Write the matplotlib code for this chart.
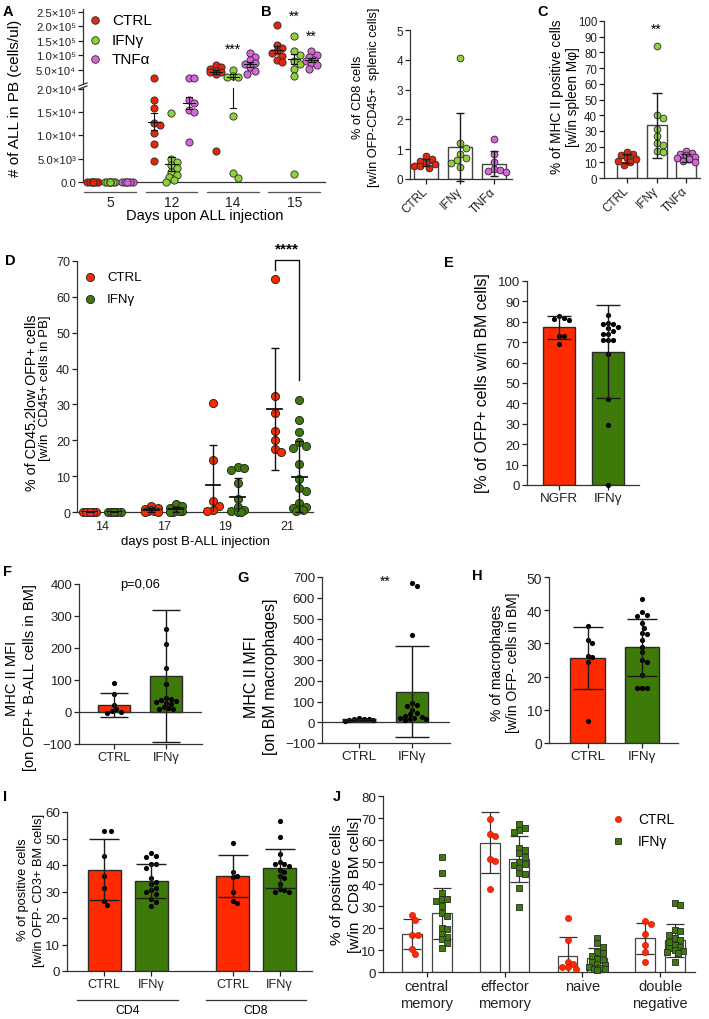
import numpy as np
import matplotlib
matplotlib.use("Agg")
import matplotlib.pyplot as plt
from matplotlib.lines import Line2D
from matplotlib.transforms import blended_transform_factory

plt.rcParams["font.family"] = ["Liberation Sans", "DejaVu Sans"]
plt.rcParams["font.size"] = 9
plt.rcParams["axes.linewidth"] = 0.9

# ---------------- data ----------------
# A: number of ALL cells in PB (cells/ul), points + mean/SEM per day
a_days = ["5", "12", "14", "15"]
a_ctrl = [[0, 0, 0, 0, 0, 0, 0, 0],
          [22000, 17700, 15900, 12700, 12200, 10500, 8100, 4600],
          [66000, 60000, 55000, 47000, 44000, 42000, 35000, 6700],
          [206000, 137000, 126000, 115000, 109000, 98000, 86000, 77000]]
a_ifn = [[0, 0, 0, 0, 0, 0, 0, 0],
         [14900, 5000, 4400, 3600, 3000, 2200, 1500, 1000, 500, 100],
         [50000, 28000, 26000, 25000, 14100, 2000, 900],
         [168000, 115000, 103000, 81000, 69000, 52000, 30000, 1800]]
a_tnf = [[0, 0, 0, 0, 0, 0],
         [22200, 22600, 17600, 17000, 15400, 15000, 8500],
         [108000, 96000, 83000, 75000, 70000, 60000, 45000, 36000],
         [115000, 103000, 95000, 86000, 80000, 75000, 66000, 55000]]
a_ctrl_mean = [0, 13000, 43000, 120000]
a_ctrl_sem = [0, 1900, 7000, 13000]
a_ifn_mean = [0, 3800, 26000, 87000]
a_ifn_sem = [0, 1500, 10000, 17000]
a_tnf_mean = [0, 17000, 70000, 85000]
a_tnf_sem = [0, 1300, 9000, 7000]

# B: % CD8 cells
bc_groups = ["CTRL", "IFNγ", "TNFα"]
b_points = [[0.78, 0.68, 0.62, 0.55, 0.5, 0.45, 0.42, 0.38],
            [4.05, 1.2, 1.05, 0.85, 0.7, 0.65, 0.55, 0.4],
            [1.34, 0.84, 0.58, 0.32, 0.3, 0.28, 0.25]]
b_mean = [0.55, 1.07, 0.52]
b_sd = [0.13, 1.15, 0.43]

# C: % MHC II positive cells
c_points = [[16.5, 15.5, 14.5, 13, 12, 11, 10, 8.2],
            [84, 40, 38.5, 31.5, 26.5, 22, 21, 17, 16.5],
            [17, 16, 15.5, 14.5, 13.5, 13, 12, 11, 10]]
c_mean = [12.5, 33.5, 13]
c_sd = [2.7, 20.5, 2.5]

# D: % CD45.2low OFP+ cells over time
d_days = ["14", "17", "19", "21"]
d_ctrl = [[0, 0, 0, 0, 0, 0],
          [1.6, 1.2, 0.9, 0.6, 0.3, 0.2, 0.1, 0],
          [30.5, 14.4, 3.1, 1.6, 0.6, 0.4],
          [65, 32.3, 27.5, 22.6, 20.2, 17.5, 16.7]]
d_ifn = [[0, 0, 0, 0, 0, 0, 0, 0],
         [2.3, 1.6, 1.0, 0.5, 0.3, 0.2, 0.1, 0],
         [12.6, 12.3, 11.8, 8.2, 3.5, 1.5, 0.6, 0.3, 0, 0],
         [31.2, 25.7, 22.2, 19.4, 18.3, 17.8, 13.3, 9.2, 6.8, 5.8, 2.5, 1.5, 1.0, 0.8, 0.5, 0.3]]
d_ctrl_mean = [0, 0.6, 7.5, 28.8]
d_ctrl_sd = [0, 0.55, 11.3, 17]
d_ifn_mean = [0, 0.7, 4.1, 9.9]
d_ifn_sd = [0, 0.8, 5.4, 10]

# E: % OFP+ cells in BM
e_groups = ["NGFR", "IFNγ"]
e_points = [[82.7, 82.0, 81.5, 81.0, 73.0, 72.8, 69.3],
            [83.3, 79.5, 79.0, 78.8, 77.3, 76.8, 75.5, 74.2, 73.8, 71.2, 71.0, 71.1, 64.0, 42.3, 29.2, 0]]
e_mean = [77.3, 65.4]
e_sd = [5.5, 22.6]

# F: MHC II MFI on OFP+ B-ALL cells
fgh_groups = ["CTRL", "IFNγ"]
f_points = [[92, 55, 22, 8, 3, 0, -3],
            [258, 212, 138, 88, 44, 42, 38, 35, 32, 28, 25, 15, 12, 10, 8]]
f_mean = [21, 112]
f_sd = [37, 207]

# G: MHC II MFI on BM macrophages
g_points = [[20, 18, 17, 15, 13, 10, 6],
            [669, 658, 419, 94, 84, 80, 61, 45, 40, 30, 25, 22, 20, 18, 15, 12]]
g_mean = [13, 148]
g_sd = [5, 220]

# H: % macrophages
h_points = [[35.2, 31, 30, 26.3, 26, 24.5, 6.7],
            [43.5, 39.5, 38.5, 38.3, 36, 34.6, 33, 32.8, 31, 29, 27.3, 25, 24.5, 20.5, 16.7, 16.6, 16.5]]
h_mean = [25.5, 28.8]
h_sd = [9.3, 8.7]

# I: % positive cells in CD3+ BM cells (CD4 / CD8)
i_sets = ["CD4", "CD8"]
i_ctrl = [[53, 53, 43.5, 36, 31.5, 26.5, 24.8],
          [48.3, 37.5, 36, 35.5, 30, 26.5, 25.8]]
i_ifn = [[44.5, 43.5, 43, 40.5, 40.5, 39, 35, 33.5, 33, 31.5, 30.5, 30, 29, 27, 26, 24.5],
         [56.5, 50.5, 44, 41, 40.5, 40.5, 39.5, 38, 37.5, 36, 35, 33, 31, 30.5, 30, 30]]
i_ctrl_mean = [38.3, 35.9]
i_ctrl_sd = [11.6, 8.0]
i_ifn_mean = [34.1, 38.8]
i_ifn_sd = [6.4, 7.3]

# J: CD8 subsets
j_groups = ["central\nmemory", "effector\nmemory", "naive", "double\nnegative"]
j_ctrl = [[26, 23.8, 16.8, 16.8, 10.6, 8.3],
          [69.5, 62.8, 62, 51.5, 50.5, 37.8],
          [24.5, 14.5, 4.5, 3.5, 2.5, 2.3, 1.5],
          [23, 22, 17.5, 12.5, 9, 4.5]]
j_ifn = [[52.5, 45, 36, 33, 33, 32.5, 30, 27, 25.5, 20, 19.5, 17.5, 16, 15, 13, 11],
         [67.5, 65.5, 64.5, 63.5, 56.5, 55.5, 54, 52.5, 50, 49, 48.5, 47.5, 45, 44.5, 38, 29.5],
         [15.5, 13, 11.5, 9, 8.5, 7.5, 6, 5.5, 4.5, 3.5, 3, 2.5, 2, 1.5, 1.5, 1],
         [31.5, 30.5, 19, 18.5, 17, 15.5, 14.5, 13.5, 12.5, 11.5, 11, 10, 9.5, 9, 8.5, 4.5]]
j_ctrl_mean = [17.4, 58.8, 7.3, 15.4]
j_ctrl_sd = [6.8, 14, 8.7, 7]
j_ifn_mean = [26.7, 51.5, 6.5, 14.4]
j_ifn_sd = [11.5, 10.5, 4.5, 7.5]

# colours
RED_A, GREEN_A, PURPLE_A = "#e3260c", "#8fd13a", "#d865dc"
RED, GREEN = "#ff2a00", "#3d7a0a"
EDGE = "#2a2a2a"

W, H = 709, 1020
fig = plt.figure(figsize=(W / 100, H / 100), dpi=100)


def fp(x, y):
    # pixel -> figure fraction
    return (x / W, 1 - y / H)


def add_ax(l, t, r, b, size=9):
    ax = fig.add_axes([l / W, 1 - b / H, (r - l) / W, (b - t) / H])
    ax.spines[["top", "right"]].set_visible(False)
    ax.spines[["left", "bottom"]].set_color("#333333")
    ax.tick_params(colors="#222222", length=3.5, width=0.9, labelsize=size, pad=1.5)
    ax.patch.set_alpha(0)
    return ax


def swarm(ax, xc, vals, d, spread=0.5, kmax=6):
    # simple beeswarm in pixel space, returns x positions in data units
    tr = ax.transData
    vals = np.asarray(vals, float)
    pts = tr.transform(np.column_stack([np.full(len(vals), xc, float), vals]))
    x0 = pts[0, 0]
    placed = []
    ks = [0] + [s * i for i in range(1, kmax + 1) for s in (1, -1)]
    for y in pts[:, 1]:
        best, bestd = x0, -1.0
        for k in ks:
            x = x0 + k * d * spread
            md = min([np.hypot(x - px, y - py) for px, py in placed], default=1e9)
            if md >= d:
                best = x
                break
            if md > bestd + 0.5:
                best, bestd = x, md
        placed.append((best, y))
    return tr.inverted().transform(np.array(placed))[:, 0]


def ylab(cx, cy, lines, size=9):
    # rotated y label, one text per line so each line is centred on cy
    gap = size * 100 / 72 * 1.18
    n = len(lines)
    for i, s in enumerate(lines):
        fig.text(*fp(cx + (i - (n - 1) / 2) * gap, cy), s, rotation=90,
                 ha="center", va="center", fontsize=size)


def letter(x, y, s):
    fig.text(*fp(x, y), s, fontweight="bold", fontsize=10.5, ha="left", va="center")


def bars(ax, xs, means, sds, colors, width, cap, edge=EDGE):
    ax.bar(xs, means, width, color=colors, edgecolor=edge, linewidth=1.0, zorder=1)
    ax.errorbar(xs, means, yerr=sds, fmt="none", ecolor="#1a1a1a", elinewidth=1.0,
                capsize=cap, capthick=1.0, zorder=4, clip_on=False)


# ================= A (broken axis) =================
axU = add_ax(83, 10, 325, 84, size=8.2)
axL = add_ax(83, 89, 325, 183, size=8.2)
split = 20200
for ax in (axU, axL):
    ax.set_xlim(-0.44, 3.5)
axU.set_ylim(5200, 260000)
axL.set_ylim(0, split)
axU.spines["bottom"].set_visible(False)
axU.set_xticks([])
axU.set_yticks([5e4, 1e5, 1.5e5, 2e5, 2.5e5])
axU.set_yticklabels(["5.0×10⁴", "1.0×10⁵", "1.5×10⁵", "2.0×10⁵", "2.5×10⁵"])
axL.set_yticks([0, 5e3, 1e4, 1.5e4, 2e4])
axL.set_yticklabels(["0.0", "5.0×10³", "1.0×10⁴", "1.5×10⁴", "2.0×10⁴"])
a_x = np.arange(len(a_days))
axL.set_xticks(a_x)
axL.set_xticklabels(a_days, fontsize=10)
axL.tick_params(axis="x", length=0, pad=9.5)

a_series = [(a_ctrl, a_ctrl_mean, a_ctrl_sem, RED_A),
            (a_ifn, a_ifn_mean, a_ifn_sem, GREEN_A),
            (a_tnf, a_tnf_mean, a_tnf_sem, PURPLE_A)]
a_off = [-0.28, 0.0, 0.28]
for gi in range(len(a_days)):
    for si, (vals, means, sems, col) in enumerate(a_series):
        x = a_x[gi] + a_off[si]
        v = np.asarray(vals[gi], float)
        for ax, sub in ((axU, v[v > split]), (axL, v[v <= split])):
            if len(sub):
                xs = swarm(ax, x, sub, 6.0, spread=0.45, kmax=2)
                ax.scatter(xs, sub, s=27, c=col, edgecolors=EDGE, linewidths=0.6,
                           zorder=3, clip_on=False)
        m, e = means[gi], sems[gi]
        for ax, lo, hi in ((axU, split, 1e9), (axL, -1e9, split)):
            if m + e < lo or m - e > hi:
                continue
            ax.plot([x, x], [m - e, m + e], color="#111111", lw=0.8, zorder=4)
            for yv, w in ((m, 0.1), (m - e, 0.05), (m + e, 0.05)):
                if lo <= yv <= hi:
                    ax.plot([x - w, x + w], [yv, yv], color="#111111", lw=0.8, zorder=4)

# group underlines
trA = blended_transform_factory(axL.transData, fig.transFigure)
for gx in a_x:
    axL.add_line(Line2D([gx - 0.42, gx + 0.42], [1 - 193 / H] * 2, transform=trA,
                        color="#555555", lw=0.9, clip_on=False))
fig.text(*fp(205, 216), "Days upon ALL injection", ha="center", va="center", fontsize=10.5)
# axis break marks
for yb in (85.5, 88.5):
    fig.add_artist(Line2D([79 / W, 87 / W], [1 - (yb + 1.5) / H, 1 - (yb - 1.5) / H],
                          color="#333333", lw=0.9))
# stars
axU.text(a_x[2], 1.22e5, "***", ha="center", va="center", fontsize=10)
axU.text(a_x[3], 2.36e5, "**", ha="center", va="center", fontsize=10)
axU.text(a_x[3] + a_off[2], 1.67e5, "**", ha="center", va="center", fontsize=10)
# legend
for i, (lab, col) in enumerate(zip(bc_groups, [RED_A, GREEN_A, PURPLE_A])):
    axU.scatter(*fp(95, 21 + 19.5 * i), s=30, c=col, edgecolors=EDGE, linewidths=0.6,
                transform=fig.transFigure, clip_on=False)
    fig.text(*fp(112, 21 + 19.5 * i), lab, ha="left", va="center", fontsize=11)
ylab(15, 98, ["# of ALL in PB (cells/ul)"], size=11)
letter(3, 12, "A")

# ================= B =================
axB = add_ax(410, 31, 512, 180, size=8.5)
bx = np.arange(3)
axB.set_xlim(-0.47, 2.53)
axB.set_ylim(0, 5)
axB.set_yticks(range(6))
bars(axB, bx, b_mean, b_sd, "white", 0.7, 3.0, edge="#444444")
for i, col in enumerate([RED_A, GREEN_A, PURPLE_A]):
    xs = swarm(axB, bx[i], b_points[i], 6.0, spread=0.5, kmax=4)
    axB.scatter(xs, b_points[i], s=24, c=col, edgecolors=EDGE, linewidths=0.6, zorder=3, clip_on=False)
axB.set_xticks(bx)
axB.set_xticklabels(bc_groups, rotation=45, ha="right", va="center", rotation_mode="anchor", fontsize=8.5)
axB.tick_params(axis="x", pad=4)
ylab(366, 97, ["% of CD8 cells", "[w/in OFP-CD45+  splenic cells]"], size=9.2)
letter(261, 12, "B")

# ================= C =================
axC = add_ax(604, 22, 700, 179, size=8.3)
cx = np.arange(3)
axC.set_xlim(-0.78, 2.47)
axC.set_ylim(0, 100)
axC.set_yticks(range(0, 101, 10))
bars(axC, cx, c_mean, c_sd, "white", 0.68, 3.5, edge="#444444")
for i, col in enumerate([RED_A, GREEN_A, PURPLE_A]):
    xs = swarm(axC, cx[i], c_points[i], 6.0, spread=0.5, kmax=3)
    axC.scatter(xs, c_points[i], s=24, c=col, edgecolors=EDGE, linewidths=0.6, zorder=3, clip_on=False)
axC.set_xticks(cx)
axC.set_xticklabels(bc_groups, rotation=45, ha="right", va="center", rotation_mode="anchor", fontsize=8.5)
axC.tick_params(axis="x", pad=4)
axC.text(cx[1], 95, "**", ha="center", va="center", fontsize=10)
ylab(565, 97, ["% of MHC II positive cells", "[w/in spleen Mφ]"], size=9.8)
letter(537, 12, "C")

# ================= D =================
axD = add_ax(77, 262, 313, 513, size=9)
dx = np.arange(len(d_days))
axD.set_xlim(-0.405, 3.42)
axD.set_ylim(0, 70)
axD.set_yticks(range(0, 71, 10))
axD.set_xticks(dx)
axD.set_xticklabels(d_days, fontsize=9)
axD.tick_params(axis="x", length=0, pad=6)
d_off = [-0.2, 0.2]
for si, (vals, means, sds, col) in enumerate([(d_ctrl, d_ctrl_mean, d_ctrl_sd, RED),
                                              (d_ifn, d_ifn_mean, d_ifn_sd, GREEN)]):
    for gi in range(len(d_days)):
        x = dx[gi] + d_off[si]
        xs = swarm(axD, x, vals[gi], 7.0, spread=0.45, kmax=2)
        axD.scatter(xs, vals[gi], s=34, c=col, edgecolors=EDGE, linewidths=0.7, zorder=3, clip_on=False)
        axD.errorbar(x, means[gi], yerr=sds[gi], fmt="none", ecolor="#111111", elinewidth=1.0,
                     capsize=3, capthick=1.0, zorder=4)
        axD.plot([x - 0.12, x + 0.12], [means[gi]] * 2, color="#111111", lw=1.3, zorder=4)
# significance bracket for day 21
x1, x2 = dx[3] + d_off[0], dx[3] + d_off[1]
axD.plot([x1, x1, x2, x2], [67.5, 70.4, 70.4, 36.7], color="#111111", lw=1.0, clip_on=False, zorder=4)
axD.text((x1 + x2) / 2, 73.4, "****", ha="center", va="center", fontsize=11, fontweight="bold")
for i, (lab, col) in enumerate(zip(["CTRL", "IFNγ"], [RED, GREEN])):
    axD.scatter(*fp(90, 278 + 22 * i), s=34, c=col, edgecolors=EDGE, linewidths=0.7,
                transform=fig.transFigure, clip_on=False)
    fig.text(*fp(107, 278 + 22 * i), lab, ha="left", va="center", fontsize=9.5)
fig.text(*fp(195, 542), "days post B-ALL injection", ha="center", va="center", fontsize=9.5)
fig.text(*fp(32, 403), "% of CD45.2low OFP+ cells", rotation=90, ha="center", va="center", fontsize=10.3)
fig.text(*fp(45, 388), "[w/in  CD45+ cells in PB]", rotation=90, ha="center", va="center", fontsize=9.5)
letter(5, 261, "D")

# ================= E =================
axE = add_ax(527, 282, 639, 486, size=9.5)
ex = np.arange(2)
axE.set_xlim(-0.65, 1.63)
axE.set_ylim(0, 100)
axE.set_yticks(range(0, 101, 10))
bars(axE, ex, e_mean, e_sd, [RED, GREEN], 0.65, 8.5)
for i in range(2):
    xs = swarm(axE, ex[i], e_points[i], 4.8, spread=0.5, kmax=6)
    axE.scatter(xs, e_points[i], s=14, c="black", linewidths=0, zorder=3, clip_on=False)
axE.set_xticks(ex)
axE.set_xticklabels(e_groups, fontsize=9.7)
ylab(482, 383, ["[% of OFP+ cells w/in BM cells]"], size=11.4)
letter(444, 263, "E")

# ================= F =================
axF = add_ax(79, 585, 202, 745, size=9.4)
fx = np.arange(2)
axF.set_xlim(-0.67, 1.69)
axF.set_ylim(-100, 400)
axF.set_yticks(range(-100, 401, 100))
axF.axhline(0, color="#333333", lw=0.9, zorder=2)
bars(axF, fx, f_mean, f_sd, [RED, GREEN], 0.62, 10)
for i in range(2):
    xs = swarm(axF, fx[i], f_points[i], 4.8, spread=0.5, kmax=6)
    axF.scatter(xs, f_points[i], s=14, c="black", linewidths=0, zorder=3, clip_on=False)
axF.set_xticks(fx)
axF.set_xticklabels(fgh_groups, fontsize=9.3)
axF.text(0.5, 400, "p=0,06", ha="center", va="center", fontsize=9.3)
ylab(21, 678, ["MHC II MFI", "[on OFP+ B-ALL cells in BM]"], size=10.5)
letter(3, 572, "F")

# ================= G =================
axG = add_ax(322, 578, 450, 744, size=9.6)
gx = np.arange(2)
axG.set_xlim(-0.7, 1.72)
axG.set_ylim(-100, 700)
axG.set_yticks(range(-100, 701, 100))
axG.axhline(0, color="#333333", lw=0.9, zorder=2)
bars(axG, gx, g_mean, g_sd, [RED, GREEN], 0.62, 12)
for i in range(2):
    xs = swarm(axG, gx[i], g_points[i], 4.8, spread=0.5, kmax=6)
    axG.scatter(xs, g_points[i], s=14, c="black", linewidths=0, zorder=3, clip_on=False)
axG.set_xticks(gx)
axG.set_xticklabels(fgh_groups, fontsize=9.6)
axG.text(0.5, 680, "**", ha="center", va="center", fontsize=10)
ylab(261, 677, ["MHC II MFI", "[on BM macrophages]"], size=11.5)
letter(237, 578, "G")

# ================= H =================
axH = add_ax(549, 578, 678, 744, size=10)
hx = np.arange(2)
axH.set_xlim(-0.71, 1.66)
axH.set_ylim(0, 50)
axH.set_yticks(range(0, 51, 10))
bars(axH, hx, h_mean, h_sd, [RED, GREEN], 0.64, 10.5)
for i in range(2):
    xs = swarm(axH, hx[i], h_points[i], 4.8, spread=0.5, kmax=6)
    axH.scatter(xs, h_points[i], s=14, c="black", linewidths=0, zorder=3, clip_on=False)
axH.set_xticks(hx)
axH.set_xticklabels(fgh_groups, fontsize=9.6)
ylab(505, 663, ["% of macrophages", "[w/in OFP- cells in BM]"], size=10)
letter(472, 576, "H")

# ================= I =================
axI = add_ax(67, 813, 312, 972, size=9.6)
i_centers = np.array([0.5, 3.23])
i_off = [-0.5, 0.5]
axI.set_xlim(-0.79, 4.42)
axI.set_ylim(0, 60)
axI.set_yticks(range(0, 61, 10))
ixs, ilabs = [], []
for gi in range(len(i_sets)):
    for si, (pts, means, sds, col) in enumerate([(i_ctrl, i_ctrl_mean, i_ctrl_sd, RED),
                                                (i_ifn, i_ifn_mean, i_ifn_sd, GREEN)]):
        x = i_centers[gi] + i_off[si]
        bars(axI, [x], [means[gi]], [sds[gi]], [col], 0.7, 11)
        xs = swarm(axI, x, pts[gi], 4.8, spread=0.5, kmax=6)
        axI.scatter(xs, pts[gi], s=14, c="black", linewidths=0, zorder=3, clip_on=False)
        ixs.append(x)
        ilabs.append(fgh_groups[si])
axI.set_xticks(ixs)
axI.set_xticklabels(ilabs, fontsize=9.2)
trI = blended_transform_factory(axI.transData, fig.transFigure)
for gi, name in enumerate(i_sets):
    axI.add_line(Line2D([i_centers[gi] - 1.07, i_centers[gi] + 1.07], [1 - 1001 / H] * 2,
                        transform=trI, color="#333333", lw=0.9, clip_on=False))
    axI.text(i_centers[gi], 1 - 1011 / H, name, transform=trI, ha="center", va="center", fontsize=8.8)
ylab(31, 890, ["% of positive cells", "[w/in OFP- CD3+ BM cells]"], size=9.3)
letter(3, 797, "I")

# ================= J =================
axJ = add_ax(383, 797, 695, 973, size=9.6)
jx = np.arange(len(j_groups))
j_off = [-0.19, 0.19]
axJ.set_xlim(-0.564, 3.45)
axJ.set_ylim(0, 80)
axJ.set_yticks(range(0, 81, 10))
for si, (pts, means, sds) in enumerate([(j_ctrl, j_ctrl_mean, j_ctrl_sd), (j_ifn, j_ifn_mean, j_ifn_sd)]):
    xb = jx + j_off[si]
    axJ.bar(xb, means, 0.256, color="white", edgecolor="#444444", linewidth=0.9, zorder=1)
    axJ.errorbar(xb, means, yerr=sds, fmt="none", ecolor="#333333", elinewidth=0.9,
                 capsize=6.5, capthick=0.9, zorder=2)
    for gi in range(len(j_groups)):
        xs = swarm(axJ, xb[gi], pts[gi], 5.5, spread=0.5, kmax=3)
        if si == 0:
            axJ.scatter(xs, pts[gi], s=20, c=RED, edgecolors="#b01000", linewidths=0.4, zorder=3, clip_on=False)
        else:
            axJ.scatter(xs, pts[gi], s=22, marker="s", c=GREEN, edgecolors=EDGE, linewidths=0.6,
                        zorder=3, clip_on=False)
axJ.set_xticks(jx)
axJ.set_xticklabels(j_groups, fontsize=10.5, linespacing=1.3)
axJ.scatter(*fp(618, 820), s=20, c=RED, edgecolors="#b01000", linewidths=0.4,
            transform=fig.transFigure, clip_on=False)
axJ.scatter(*fp(618, 842), s=22, marker="s", c=GREEN, edgecolors=EDGE, linewidths=0.6,
            transform=fig.transFigure, clip_on=False)
fig.text(*fp(638, 820), "CTRL", ha="left", va="center", fontsize=10)
fig.text(*fp(638, 842), "IFNγ", ha="left", va="center", fontsize=10)
ylab(346, 885, ["% of positive cells", "[w/in  CD8 BM cells]"], size=11)
letter(333, 797, "J")

fig.savefig("out.png", dpi=100)
